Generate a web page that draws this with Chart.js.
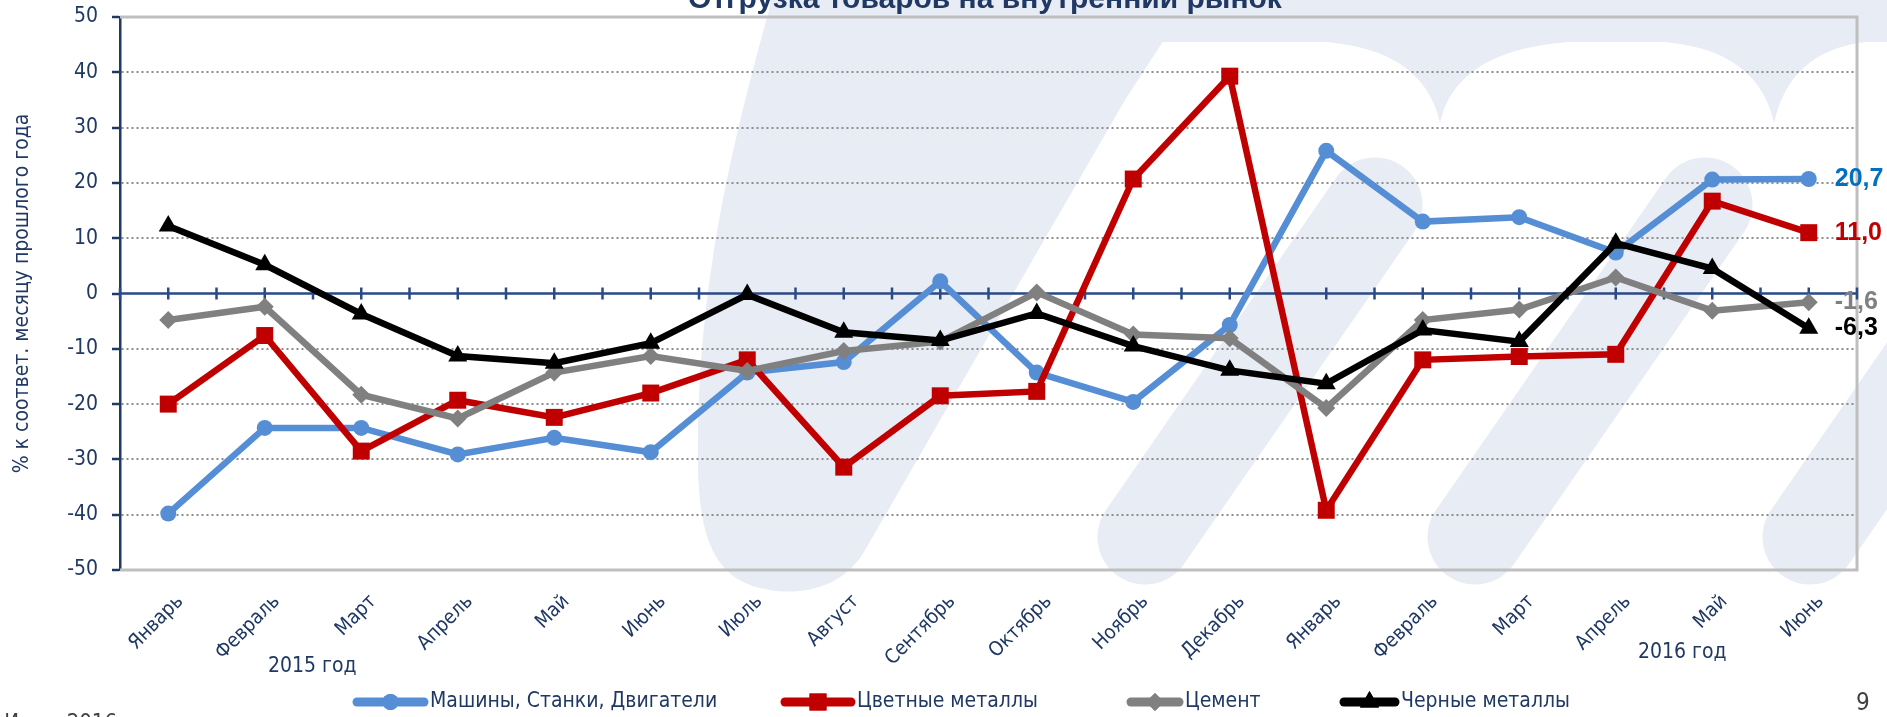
<!DOCTYPE html>
<html>
<head>
<meta charset="utf-8">
<script src="https://cdn.jsdelivr.net/npm/chart.js@4.4.1/dist/chart.umd.min.js"></script>
<style>
html, body { margin: 0; padding: 0; background: #fff; overflow: hidden; }
#wrap { position: relative; width: 1887px; height: 717px; overflow: hidden; }
#bg, #chart { position: absolute; left: 0; top: 0; }
.txt { position: absolute; white-space: nowrap; color: #1f3864; font-family: "Liberation Sans Narrow", "DejaVu Sans Condensed", "Liberation Sans", sans-serif; }
#title { left: 685px; width: 600px; top: -17px; text-align: center; font: bold 30px/30px "Liberation Sans", Arial, sans-serif; color: #1f3864; }
</style>
</head>
<body>
<div id="wrap">
<svg id="bg" width="1887" height="717">
  <g fill="#e8ecf4" stroke="none">
    <rect x="770" y="0" width="1117" height="42"/>
    <path d="M 772,0 L 1190,0 L 1125,100 L 868,545 C 845,590 800,595 770,590 C 715,582 700,540 698,470 C 696,330 715,200 772,0 Z"/>
    <path d="M 1300,41 Q 1422,41 1440,123 Q 1458,41 1600,41 Z"/>
    <path d="M 1640,41 Q 1756,41 1774,123 Q 1792,41 1887,41 Z"/>
  </g>
  <g fill="none" stroke="#e8ecf4" stroke-linecap="round" stroke-width="95">
    <line x1="1145" y1="537" x2="1375" y2="205"/>
    <line x1="1475" y1="537" x2="1705" y2="205"/>
    <line x1="1810" y1="537" x2="2040" y2="205"/>
  </g>
</svg>
<canvas id="chart" width="1887" height="717"></canvas>
<div id="title" class="txt">Отгрузка товаров на внутренний рынок</div>
<div class="txt" style="left:268px; top:652px; font-size:21px; line-height:26px;">2015 год</div>
<div class="txt" style="left:1638px; top:638px; font-size:21px; line-height:26px;">2016 год</div>
<div class="txt" style="left:1856px; top:689px; font-size:24px; line-height:26px; color:#404040;">9</div>
<div class="txt" style="left:0; width:117px; text-align:right; top:711px; font-size:22px; line-height:22px; color:#404040;">Июнь 2016</div>
</div>
<script>
var months = ["Январь", "Февраль", "Март", "Апрель", "Май", "Июнь", "Июль", "Август", "Сентябрь", "Октябрь", "Ноябрь", "Декабрь",
              "Январь", "Февраль", "Март", "Апрель", "Май", "Июнь"];
var seriesNames = ["Машины, Станки, Двигатели", "Цветные металлы", "Цемент", "Черные металлы"];
var machines   = [-39.8, -24.3, -24.3, -29.1, -26.1, -28.7, -14.3, -12.4,   2.2, -14.3, -19.6,  -5.7,  25.8,  13.0,  13.8,   7.4,  20.6,  20.7];
var nonferrous = [-20.0,  -7.6, -28.5, -19.3, -22.4, -18.0, -12.0, -31.4, -18.5, -17.7,  20.7,  39.3, -39.2, -12.0, -11.4, -11.0,  16.7,  11.0];
var cement     = [ -4.8,  -2.4, -18.3, -22.6, -14.3, -11.3, -14.0, -10.4,  -8.7,   0.2,  -7.4,  -8.1, -20.7,  -4.8,  -2.9,   2.9,  -3.1,  -1.6];
var ferrous    = [ 12.2,   5.2,  -3.7, -11.3, -12.6,  -9.0,  -0.2,  -7.0,  -8.5,  -3.6,  -9.5, -13.9, -16.3,  -6.6,  -8.7,   9.1,   4.5,  -6.3];
var endLabels  = ["20,7", "11,0", "-1,6", "-6,3"];
var yMin = -50, yMax = 50, yStep = 10;

var NAVY = "#1f3864";
var NARROW = '"Liberation Sans Narrow", "DejaVu Sans Condensed", "Liberation Sans", sans-serif';
var colors = ["#558ed5", "#c00000", "#808080", "#000000"];
var labelColors = ["#0070c0", "#c00000", "#808080", "#000000"];
var styles = ["circle", "rect", "rectRot", "triangle"];
var radii = [8, 12, 9, 11];

// frame, zero axis and its ticks, under the lines
var framePlugin = {
    id: "frame",
    beforeDatasetsDraw: function (chart) {
        var ctx = chart.ctx, a = chart.chartArea;
        var x = chart.scales.x, y = chart.scales.y;
        ctx.save();
        ctx.strokeStyle = "#bfbfbf";
        ctx.lineWidth = 3;
        ctx.beginPath();
        ctx.moveTo(a.left, a.top); ctx.lineTo(a.right, a.top);
        ctx.lineTo(a.right, a.bottom); ctx.lineTo(a.left, a.bottom);
        ctx.stroke();
        var y0 = y.getPixelForValue(0);
        ctx.strokeStyle = "#2a4a86";
        ctx.lineWidth = 2.5;
        ctx.beginPath();
        ctx.moveTo(a.left, y0); ctx.lineTo(a.right, y0);
        var half = (x.getPixelForValue(1) - x.getPixelForValue(0)) / 2;
        for (var i = 0; i < months.length; i++) {
            var px = x.getPixelForValue(i);
            [px - half, px, px + half].forEach(function (t) {
                ctx.moveTo(t, y0 - 6); ctx.lineTo(t, y0 + 6);
            });
        }
        ctx.stroke();
        ctx.restore();
    }
};

// values at the end of each line
var endLabelPlugin = {
    id: "endLabels",
    afterDatasetsDraw: function (chart) {
        var ctx = chart.ctx;
        ctx.save();
        ctx.font = "bold 25px 'Liberation Sans', Arial, sans-serif";
        ctx.textBaseline = "middle";
        ctx.textAlign = "left";
        chart.data.datasets.forEach(function (ds, i) {
            var meta = chart.getDatasetMeta(i);
            var p = meta.data[meta.data.length - 1];
            ctx.fillStyle = labelColors[i];
            ctx.fillText(endLabels[i], p.x + 26, p.y);
        });
        ctx.restore();
    }
};

// Excel-like legend at the bottom
var legendX = [353, 781, 1127, 1340];
var legendLen = [75, 74, 56, 59];
var legendPlugin = {
    id: "bottomLegend",
    afterDraw: function (chart) {
        var ctx = chart.ctx, ly = 702;
        ctx.save();
        chart.data.datasets.forEach(function (ds, i) {
            var x1 = legendX[i], x2 = x1 + legendLen[i];
            ctx.strokeStyle = ds.borderColor;
            ctx.lineWidth = 9;
            ctx.lineCap = "round";
            ctx.beginPath(); ctx.moveTo(x1 + 4, ly); ctx.lineTo(x2 - 4, ly); ctx.stroke();
            ctx.fillStyle = ds.borderColor;
            Chart.helpers.drawPoint(ctx, { pointStyle: ds.pointStyle, radius: ds.pointRadius, rotation: 0, borderWidth: 0 }, (x1 + x2) / 2, ly);
            ctx.fill();
            ctx.fillStyle = NAVY;
            ctx.font = "21px " + NARROW;
            ctx.textBaseline = "middle";
            ctx.fillText(ds.label, x2 + 2, ly);
        });
        ctx.restore();
    }
};

var datasets = [machines, nonferrous, cement, ferrous].map(function (values, i) {
    return {
        label: seriesNames[i],
        data: values,
        borderColor: colors[i],
        backgroundColor: colors[i],
        borderWidth: 6.5,
        pointStyle: styles[i],
        pointRadius: radii[i],
        pointBorderWidth: 0,
        pointBackgroundColor: colors[i],
        tension: 0,
        order: 4 - i
    };
});

new Chart(document.getElementById("chart"), {
    type: "line",
    data: { labels: months, datasets: datasets },
    options: {
        responsive: false,
        animation: false,
        devicePixelRatio: 1,
        layout: { padding: { top: 17, right: 30, left: 0, bottom: 0 } },
        plugins: { legend: { display: false }, tooltip: { enabled: false }, title: { display: false } },
        scales: {
            x: {
                type: "category",
                offset: true,
                grid: { display: false, drawTicks: false },
                border: { display: false },
                ticks: {
                    color: NAVY,
                    font: { family: NARROW, size: 20 },
                    minRotation: 45, maxRotation: 45,
                    autoSkip: false,
                    padding: 20,
                    labelOffset: 12
                },
                afterFit: function (s) { s.height = 147; }
            },
            y: {
                min: yMin, max: yMax,
                ticks: { stepSize: yStep, color: NAVY, font: { family: NARROW, size: 21 }, padding: 14 },
                grid: {
                    color: function (c) {
                        var v = c.tick ? c.tick.value : null;
                        return (v === 0 || v === yMin || v === yMax) ? "rgba(0,0,0,0)" : "#8c8c8c";
                    },
                    lineWidth: 2,
                    tickColor: NAVY,
                    tickLength: 8,
                    tickWidth: 2.5,
                    tickBorderDash: []
                },
                border: { display: true, color: NAVY, width: 2.5, dash: [2, 3] },
                title: {
                    display: true,
                    text: "% к соответ. месяцу прошлого года",
                    color: NAVY,
                    font: { family: NARROW, size: 21 },
                    padding: { top: 10, bottom: 0 }
                },
                afterFit: function (s) {
                    s.width = 120;
                    s.paddingTop = 0;
                    s.paddingBottom = 0;
                }
            }
        }
    },
    plugins: [framePlugin, endLabelPlugin, legendPlugin]
});
</script>
</body>
</html>
